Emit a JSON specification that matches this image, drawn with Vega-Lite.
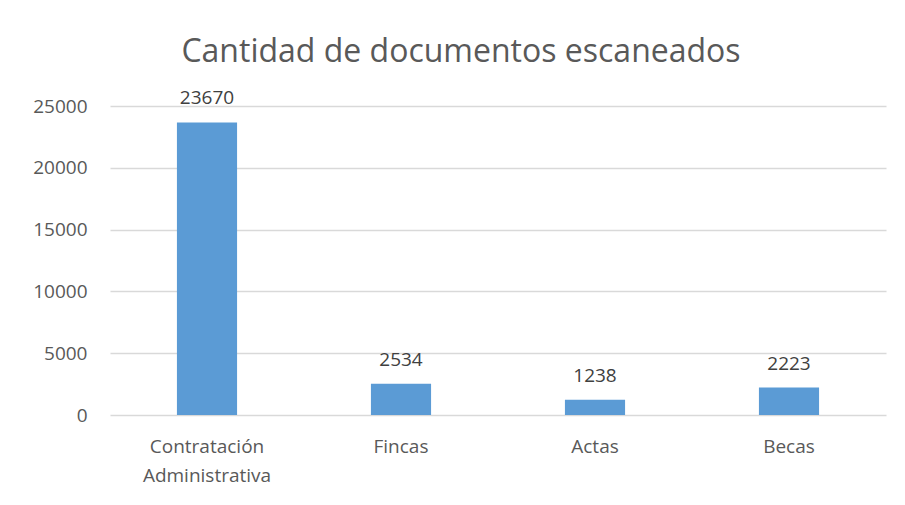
{
  "$schema": "https://vega.github.io/schema/vega-lite/v6.json",
  "autosize": "none",
  "width": 776,
  "height": 309,
  "padding": {"left": 110, "top": 106, "right": 19, "bottom": 90},
  "background": "white",
  "title": {
    "text": "Cantidad de documentos escaneados",
    "font": "Open Sans",
    "fontSize": 32,
    "fontWeight": "normal",
    "color": "#595959",
    "anchor": "middle",
    "dx": -37,
    "offset": 20
  },
  "data": {
    "values": [
      {"categoria": "Contratación Administrativa", "cantidad": 23670},
      {"categoria": "Fincas", "cantidad": 2534},
      {"categoria": "Actas", "cantidad": 1238},
      {"categoria": "Becas", "cantidad": 2223}
    ]
  },
  "encoding": {
    "x": {
      "field": "categoria",
      "type": "nominal",
      "sort": null,
      "scale": {"paddingInner": 0.69, "paddingOuter": 0.345},
      "axis": {
        "title": null,
        "labelAngle": 0,
        "labelExpr": "split(datum.value, ' ')",
        "labelFont": "Open Sans",
        "labelFontSize": 19,
        "labelColor": "#595959",
        "labelPadding": 22,
        "labelLineHeight": 29,
        "ticks": false,
        "domain": false
      }
    },
    "y": {
      "field": "cantidad",
      "type": "quantitative",
      "scale": {"domain": [0, 25000], "nice": false},
      "axis": {
        "title": null,
        "values": [0, 5000, 10000, 15000, 20000, 25000],
        "format": "d",
        "labelFont": "Open Sans",
        "labelFontSize": 19,
        "labelColor": "#595959",
        "labelPadding": 23,
        "ticks": false,
        "domain": false,
        "gridColor": "#D9D9D9",
        "gridWidth": 1.3
      }
    }
  },
  "layer": [
    {"mark": {"type": "bar", "color": "#5B9BD5"}},
    {
      "mark": {
        "type": "text",
        "font": "Open Sans",
        "fontSize": 19,
        "color": "#404040",
        "baseline": "alphabetic",
        "dy": -18
      },
      "encoding": {"text": {"field": "cantidad", "type": "quantitative", "format": "d"}}
    }
  ],
  "config": {"view": {"stroke": null}}
}
